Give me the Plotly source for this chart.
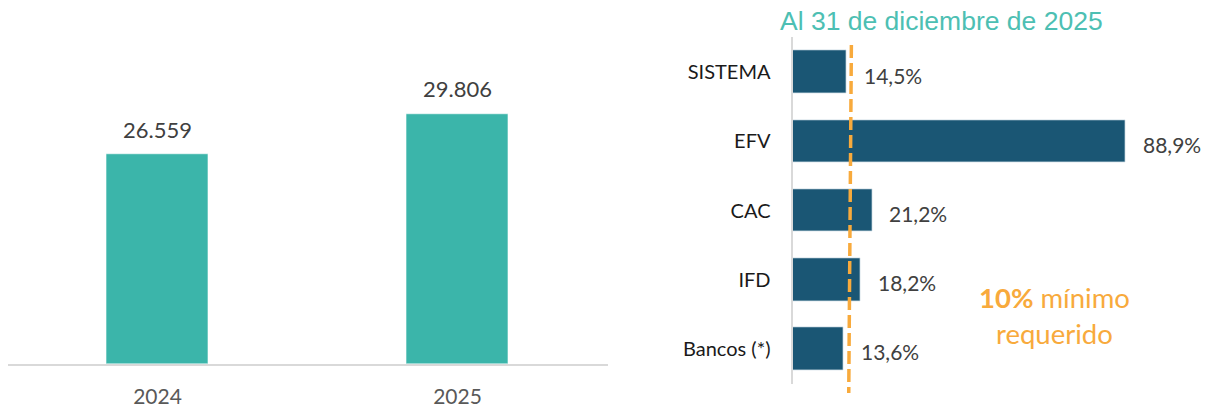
import plotly.graph_objects as go

# ---------------- data ----------------
years = ["2024", "2025"]
year_values = [26559, 29806]

entities = ["SISTEMA", "EFV", "CAC", "IFD", "Bancos (*)"]
entity_values = [14.5, 88.9, 21.2, 18.2, 13.6]

title_text = "Al 31 de diciembre de 2025"
guide_lines = ["<b>10%</b> mínimo", "requerido"]
guide_x = [15.7, 15.0]  # drawn dashed guide (top, bottom) in % units

# ---------------- styles ----------------
TEAL = "#3BB5AA"
NAVY = "#1A5674"
ORANGE = "#F8AA3C"
TITLE_TEAL = "#4DBFB3"
AXIS_GRAY = "#D9D9D9"
FONT = "Lato, 'Open Sans', sans-serif"

W, H = 1212, 410


def fx(px):
    return px / W


def fy(py):
    return 1 - py / H


fig = go.Figure()

fig.add_trace(go.Bar(
    x=list(range(len(years))), y=year_values, xaxis="x", yaxis="y",
    marker=dict(color=TEAL, line=dict(color="rgba(255,255,255,0.6)", width=1)),
    width=0.337, hoverinfo="skip", showlegend=False,
))

fig.add_trace(go.Bar(
    x=entity_values, y=entities, orientation="h", xaxis="x2", yaxis="y2",
    marker=dict(color=NAVY, line=dict(color="rgba(200,215,225,0.7)", width=1)),
    width=0.613, hoverinfo="skip", showlegend=False,
))

annotations = []
for i, v in enumerate(year_values):
    annotations.append(dict(
        x=i, y=v, xref="x", yref="y", showarrow=False,
        text=f"{v:,}".replace(",", "."), yanchor="middle", yshift=25,
        font=dict(family=FONT, size=22, color="#404040"),
    ))
for ent, v in zip(entities, entity_values):
    annotations.append(dict(
        x=v, y=ent, xref="x2", yref="y2", showarrow=False,
        text=f"{v:.1f}".replace(".", ",") + "%", xanchor="left", yanchor="middle",
        xshift=15, yshift=-3,
        font=dict(family=FONT, size=21, color="#404040"),
    ))
annotations.append(dict(
    x=fx(941), y=fy(21), xref="paper", yref="paper", showarrow=False,
    text=title_text, xanchor="center", yanchor="middle",
    font=dict(family="'Liberation Sans', Arial, sans-serif", size=26.5, color=TITLE_TEAL),
))
for line, ypx in zip(guide_lines, [297, 333]):
    annotations.append(dict(
        x=fx(1054), y=fy(ypx), xref="paper", yref="paper", showarrow=False,
        text=line, xanchor="center", yanchor="middle",
        font=dict(family=FONT, size=27.5, color=ORANGE),
    ))

shapes = [dict(
    type="line", xref="x2", yref="paper",
    x0=guide_x[0], x1=guide_x[1], y0=fy(45), y1=fy(393),
    line=dict(color=ORANGE, width=3.5, dash="13px,5px"),
)]

fig.update_layout(
    width=W, height=H,
    margin=dict(l=0, r=0, t=0, b=0),
    paper_bgcolor="white", plot_bgcolor="white",
    bargap=0,
    annotations=annotations, shapes=shapes,
    xaxis=dict(
        domain=[fx(7.5), fx(607.5)], anchor="y",
        range=[-0.5, 1.5], showgrid=False, zeroline=False,
        showline=True, linecolor=AXIS_GRAY, linewidth=2,
        tickmode="array", tickvals=list(range(len(years))), ticktext=years,
        ticks="", ticklabelstandoff=13,
        tickfont=dict(family=FONT, size=21, color="#595959"),
        fixedrange=True,
    ),
    yaxis=dict(
        domain=[fy(363.5), fy(48.25)], anchor="x",
        range=[10000, 35000], showgrid=False, zeroline=False,
        showline=False, showticklabels=False, ticks="", fixedrange=True,
    ),
    xaxis2=dict(
        domain=[fx(792.5), fx(1167.5)], anchor="y2",
        range=[0, 100], showgrid=False, zeroline=False,
        showline=False, showticklabels=False, ticks="", fixedrange=True,
    ),
    yaxis2=dict(
        domain=[fy(383.6), fy(37.4)], anchor="x2", type="category",
        categoryorder="array", categoryarray=entities, autorange="reversed",
        showgrid=False, zeroline=False,
        showline=True, linecolor=AXIS_GRAY, linewidth=2,
        ticks="", ticklabelstandoff=16,
        tickfont=dict(family=FONT, size=20, color="#1A1A1A"),
        fixedrange=True,
    ),
)

fig.write_html(
    "out.html",
    config={"displayModeBar": False},
    post_script="document.body.style.margin='0';document.body.style.overflow='hidden';",
)
